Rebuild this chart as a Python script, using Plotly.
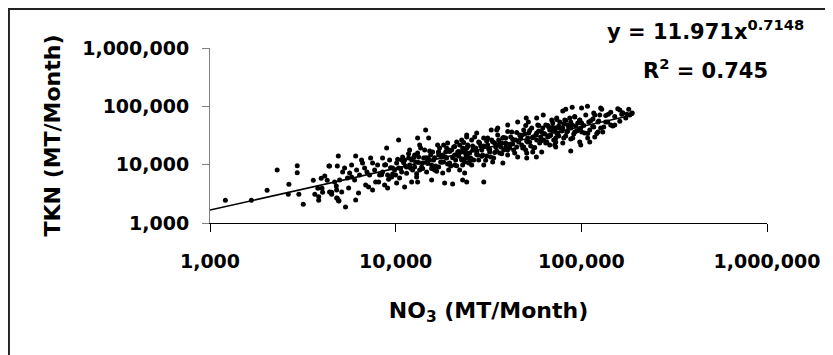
import plotly.graph_objects as go

# ---- data (MT/Month) ----
NO3_SPARSE = [1210, 1670, 2030, 2300, 2660, 2640, 2950, 2950, 3010, 3180, 3600, 3670, 3810, 3850,
              3850, 3970, 4010, 4040, 4150, 4280, 4370, 4520, 4520, 4790, 4850, 4910, 4850, 4950]
TKN_SPARSE = [2450, 2450, 3630, 8085, 4600, 3100, 9580, 7270, 3100, 2090, 5390, 3100, 3930, 2820,
              2450, 5830, 3930, 3350, 6380, 5390, 9465, 3350, 3100, 4300, 9465, 14040, 2650, 2410]

NO3_LOW = [4406, 5307, 5180, 5790, 6090, 6160, 5650, 6550, 6630, 7330, 7510, 7000, 6390, 5790, 6010,
           5500, 4690, 4990, 4406, 4810, 5120, 5580, 4810, 4930, 5370, 6090, 6310, 6890, 7150, 7510,
           7800, 8195, 8500, 8500, 8940, 8100, 8719, 9050, 9510, 9871, 10120, 10370, 10120, 10503,
           11175, 10770, 11450, 10900, 11891, 12190, 12190, 12970, 13130, 12652, 13130, 13130, 13462,
           14500, 15050, 13970, 14680, 15241, 15620, 15810, 16820, 17040, 17690, 17920, 18359, 18820,
           19050, 19534, 20270, 20785, 21310, 22115, 22670, 22950, 24130, 24130, 24430, 23531,
           11175, 11891, 12652, 13462, 14324, 14870, 15620, 16216, 17040, 17254, 18130, 18590, 19290,
           20020, 20785, 21570, 22115, 22950, 23830, 24730, 6803, 7238, 7702, 7990, 8719, 9050, 9277,
           9630, 10000, 10370]
TKN_LOW = [9465, 8751, 7470, 9848, 14040, 8085, 7184, 11996, 10658, 12983, 10658, 7470, 6638, 6135, 5450,
           5899, 5036, 5450, 3395, 3674, 3395, 3975, 2680, 2380, 1879, 2476, 3264, 4475, 4135, 3674,
           5036, 6638, 7470, 12983, 19263, 5036, 4475, 3975, 6135, 8085, 10658, 26409, 4843, 5899,
           4135, 7470, 9098, 13490, 17800, 11996, 5036, 6135, 5036, 9098, 15814, 28580, 21680,
           39180, 28580, 10658, 7470, 11996, 5450, 16440, 21680, 9098, 13490, 7184, 4843, 19263,
           23463, 10658, 4655, 14612, 24380, 8085, 11996, 19263, 29700, 5036, 13490, 7184,
           11996, 9848, 14612, 8085, 17800, 12983, 9848, 8085, 14612, 19263, 11080, 16440, 8085,
           17800, 9848, 16440, 21680, 9848, 16440, 10658, 8751, 6638, 8085, 9848, 9848, 6638, 11996,
           8751, 6638, 8751]

NO3_MID = [22950, 29820, 57470, 51820, 45400, 40150, 35460, 32700, 27320, 24130, 37790, 33300, 29820,
           25670, 50800, 54720, 61180, 67566, 72800, 76492,
           22670, 23230, 23830, 24430, 25037, 25670, 26310, 26970, 27650, 28345, 29060, 29790, 30920,
           31290, 32090, 32890, 33720, 34570, 35440, 36330, 37250, 38180, 39140, 40130, 41130, 42170,
           43220, 44310, 45420, 46564, 47740, 48940, 50170, 51440, 52716, 54040, 55400, 56790, 58220,
           59681, 61180, 62720, 64300, 65920, 67566, 69260, 71000, 72790, 74620, 76492,
           62330, 50500, 72800, 57240, 50800]
TKN_MID = [5450, 5036, 62905, 53630, 53630, 47723, 42403, 39180, 34812, 32167, 10658, 11080, 9848,
           9848, 12983, 16440, 16440, 21680, 28580, 42403,
           26409, 17800, 12983, 21680, 15814, 26409, 11996, 19263, 14612, 23463, 17800, 28580, 14040,
           21680, 16440, 26409, 12983, 20020, 32167, 15814, 23463, 17800, 28580, 14612, 21680, 36150,
           17800, 26409, 13490, 32167, 21680, 39180, 17800, 28580, 24380, 42403, 19263, 32167, 47723,
           23463, 36150, 26409, 47723, 29700, 39180, 58126, 26409, 42403, 32167, 53630,
           70796, 62905, 20020, 13490, 15814]

NO3_HIGH = [79440, 82410, 89260, 100300, 107900, 127100, 125657, 116600, 139700, 161053, 165100,
            175700, 187900, 182331, 73680, 70140, 81388, 86598, 92141, 98039, 84530, 89260, 95690,
            100300, 109600, 115500, 122900, 135300, 144000, 151364, 71891, 74620, 79440, 83450,
            87690, 92141, 99260, 104314, 110992, 116600, 122900, 127100, 130400, 72800, 79440,
            87690, 98039, 99260, 110992, 118097, 108200, 87690]
TKN_HIGH = [82770, 89540, 96900, 93324, 100800, 93324, 70796, 76617, 73520, 86229, 73520,
            73520, 76617, 70796, 62905, 51646, 58126, 62905, 65320, 58126, 47723, 47723, 51646,
            51646, 53630, 60390, 53630, 53630, 47723, 47723, 39180, 34812, 42403, 36150,
            42403, 36150, 42403, 34812, 39180, 44040, 36150, 42403, 36150, 24380, 23463,
            27440, 24380, 21680, 24380, 29700, 28580, 17100]

NO3_CORE = [10770, 11310, 11740, 12340, 12810, 13300, 13800, 14150, 14680, 15430, 16020, 16420, 17040,
            17470, 17910, 18820, 19290, 19780, 20530, 21040, 21840, 22390, 23531, 24130, 25350, 25980,
            27310, 27990, 28700, 29420, 30910, 31690, 32490, 34144, 35000, 35880, 36780, 37710, 39140,
            40130, 41640, 42690, 44860, 45990, 47150, 48330, 49545, 50790, 52070, 53380, 54720, 57490,
            58940, 60430, 61950, 63501, 65100, 66740, 68410, 70130, 73700, 75550, 78440, 80380, 82410,
            85540, 87690, 91000, 93290, 96840]
TKN_CORE = [11996, 9465, 12983, 8085, 11080, 13490, 9098, 12983, 11080, 14612, 11996, 9465, 16440,
            11080, 14612, 12983, 17800, 9465, 20020, 11996, 14040, 16440, 11080, 19263, 12983, 20820,
            16440, 11996, 20820, 14612, 25360, 18500, 13490, 23463, 17100, 26409, 20020, 28580, 23463,
            17800, 29700, 22530, 20020, 25360, 28580, 19263, 33420, 25360, 34812, 20820, 29700, 26409,
            37610, 29700, 42403, 33420, 24380, 44040, 32167, 37610, 34812, 45810, 37610, 49550, 30890,
            42403, 53630, 33420, 45810, 39180]

NO3_BAND = [8400, 8830, 9160, 9390, 9630, 10250, 10630, 11040, 11450, 11740, 12040, 12500, 12970,
            13300, 13630, 13970, 14500, 14870, 15241, 15620, 16216, 16620, 17040, 17690, 18130, 18590,
            19050, 19534, 20270, 20785, 21310, 21840, 22670, 23240, 23830, 24430, 25037, 25980, 26640,
            27310, 27990, 29060, 29790, 30530, 31290, 32090, 33300, 34144, 35000, 35880, 37250, 38180,
            39140, 40130, 41130, 42690, 43763, 44860, 45990, 47740, 48940, 50170, 51440, 52716, 54720,
            56090, 57490, 58940, 60430, 62720, 64300, 65920, 67566, 70140, 71891, 73700, 75550, 78440,
            80380, 82410, 84480, 87690, 89890, 92141, 94450, 98039, 100500, 103000, 105630, 108300,
            112400, 115200, 118097, 121070, 124100, 128800, 132000, 135300, 138700, 144000, 147600,
            151364, 157100, 161053, 167100, 173500, 180000, 186900]
TKN_BAND = [6710, 9920, 5645, 8850, 6900, 12430, 8610, 10740, 7150, 15430, 8680, 13230, 6960,
            10910, 19320, 8575, 13080, 10480, 17160, 8575, 13080, 7680, 16500, 10990, 21830, 13340,
            10280, 16830, 13130, 20580, 9540, 16830, 12620, 24090, 15310, 20500, 11570, 17640, 29920,
            15010, 24470, 13930, 20990, 11850, 28660, 18210, 24660, 16240, 39440, 22180, 15370, 29350,
            20170, 37030, 19320, 27220, 15920, 35740, 24470, 31870, 20170, 47090, 24470, 38510, 28880,
            19780, 35040, 46900, 25460, 34360, 23620, 46900, 31000, 43690, 21830, 59660, 31000, 42010,
            28760, 57360, 37760, 49180, 28760, 67140, 37760, 57590, 36440, 47090, 70960, 34210,
            56450, 45270, 71240, 34210, 56010, 88830, 44390, 69860, 53840, 78930, 46170,
            67140, 90980, 55360, 78000, 63290, 88830, 74990]

NO3 = NO3_SPARSE + NO3_LOW + NO3_MID + NO3_HIGH + NO3_CORE + NO3_BAND
TKN = TKN_SPARSE + TKN_LOW + TKN_MID + TKN_HIGH + TKN_CORE + TKN_BAND

# power trendline end points (as drawn)
TREND_NO3 = [1000, 190000]
TREND_TKN = [1671, 71060]
EQUATION = "y = 11.971x<sup>0.7148</sup>"
R_SQUARED = "R<sup>2</sup> = 0.745"

TICK_VALUES = [1000, 10000, 100000, 1000000]
TICK_LABELS = ["1,000", "10,000", "100,000", "1,000,000"]

FONT = "DejaVu Sans"

fig = go.Figure()
fig.add_trace(go.Scatter(
    x=NO3, y=TKN, mode="markers",
    marker=dict(color="black", size=5, line=dict(width=0)),
    showlegend=False, hoverinfo="x+y"))
fig.add_trace(go.Scatter(
    x=TREND_NO3, y=TREND_TKN, mode="lines",
    line=dict(color="black", width=1.5),
    showlegend=False, hoverinfo="skip"))

fig.update_layout(
    width=825, height=347,
    margin=dict(l=202, r=66, t=40, b=132),
    paper_bgcolor="white", plot_bgcolor="white",
    font=dict(family=FONT, color="black", size=19, weight="bold"),
    xaxis=dict(
        type="log", range=[3, 6],
        tickvals=TICK_VALUES, ticktext=TICK_LABELS,
        tickfont=dict(family=FONT, size=19, weight="bold", color="black"),
        ticks="outside", ticklen=8, tickwidth=1, tickcolor="black",
        ticklabelstandoff=13,
        showline=True, linecolor="black", linewidth=1,
        showgrid=False, zeroline=False, minor=dict(ticks="", showgrid=False),
        title=dict(text="NO<sub>3</sub> (MT/Month)", standoff=31,
                   font=dict(family=FONT, size=22, weight="bold", color="black")),
    ),
    yaxis=dict(
        type="log", range=[3, 6],
        tickvals=TICK_VALUES, ticktext=TICK_LABELS,
        tickfont=dict(family=FONT, size=19, weight="bold", color="black"),
        ticks="outside", ticklen=7, tickwidth=1, tickcolor="#808080",
        ticklabelstandoff=9,
        showline=True, linecolor="#808080", linewidth=1,
        showgrid=False, zeroline=False, minor=dict(ticks="", showgrid=False),
        title=dict(text="TKN (MT/Month)", standoff=15,
                   font=dict(family=FONT, size=22, weight="bold", color="black")),
    ),
    shapes=[dict(type="rect", xref="paper", yref="paper",
                 x0=-0.361, x1=1.3, y0=-0.9, y1=1.2229,
                 line=dict(color="#222222", width=2), fillcolor="rgba(0,0,0,0)", layer="below")],
    annotations=[
        dict(text=EQUATION, xref="paper", yref="paper", x=0.889, y=1.102,
             xanchor="center", yanchor="middle", showarrow=False,
             font=dict(family=FONT, size=21, weight="bold", color="black")),
        dict(text=R_SQUARED, xref="paper", yref="paper", x=0.889, y=0.879,
             xanchor="center", yanchor="middle", showarrow=False,
             font=dict(family=FONT, size=21, weight="bold", color="black")),
    ],
)

fig.write_html("out.html")
